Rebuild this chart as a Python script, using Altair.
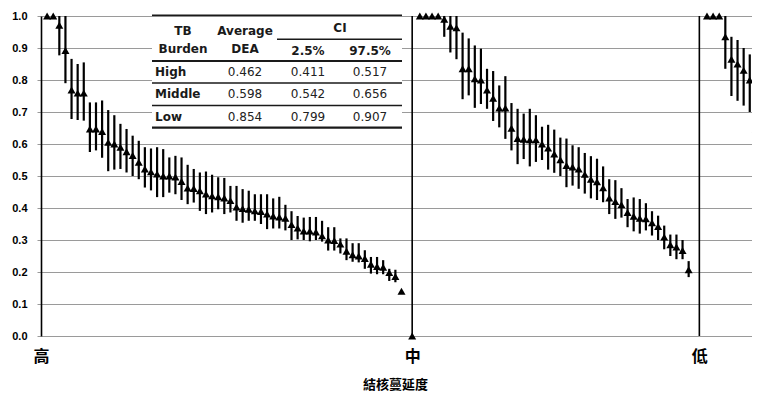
import altair as alt
import pandas as pd

# ---------------- data ----------------
x_labels = ["高", "中", "低"]
x_title = "結核蔓延度"

high_val = [1.000, 1.000, 0.971, 0.892, 0.769, 0.759, 0.759, 0.647, 0.647, 0.639,
            0.605, 0.600, 0.590, 0.576, 0.564, 0.543, 0.522, 0.513, 0.506, 0.500,
            0.500, 0.497, 0.483, 0.462, 0.461, 0.454, 0.444, 0.438, 0.435, 0.431,
            0.423, 0.403, 0.398, 0.396, 0.391, 0.389, 0.381, 0.375, 0.372, 0.368,
            0.348, 0.337, 0.328, 0.328, 0.325, 0.313, 0.300, 0.298, 0.287, 0.265,
            0.254, 0.250, 0.242, 0.224, 0.217, 0.215, 0.198, 0.186, 0.140]
high_lo = [1.000, 1.000, 0.877, 0.790, 0.678, 0.675, 0.673, 0.575, 0.580, 0.557,
           0.515, 0.520, 0.522, 0.511, 0.500, 0.490, 0.464, 0.455, 0.434, 0.434,
           0.448, 0.443, 0.425, 0.412, 0.417, 0.391, 0.381, 0.386, 0.396, 0.381,
           0.386, 0.360, 0.354, 0.360, 0.360, 0.350, 0.334, 0.336, 0.336, 0.330,
           0.300, 0.302, 0.300, 0.296, 0.300, 0.295, 0.267, 0.267, 0.258, 0.237,
           0.232, 0.230, 0.210, 0.195, 0.193, 0.193, 0.172, 0.168, 0.140]
high_hi = [1.000, 1.000, 1.000, 1.000, 0.866, 0.850, 0.855, 0.730, 0.730, 0.736,
           0.706, 0.690, 0.663, 0.647, 0.626, 0.610, 0.590, 0.586, 0.590, 0.584,
           0.558, 0.563, 0.558, 0.535, 0.522, 0.511, 0.514, 0.504, 0.496, 0.494,
           0.469, 0.469, 0.459, 0.454, 0.443, 0.443, 0.443, 0.430, 0.435, 0.410,
           0.390, 0.375, 0.370, 0.372, 0.372, 0.360, 0.340, 0.340, 0.305, 0.305,
           0.290, 0.290, 0.268, 0.247, 0.247, 0.237, 0.210, 0.207, 0.140]

mid_val = [1.000, 1.000, 1.000, 1.000, 0.990, 0.968, 0.963, 0.835, 0.835, 0.804,
           0.800, 0.769, 0.743, 0.712, 0.712, 0.649, 0.617, 0.615, 0.613, 0.613,
           0.600, 0.587, 0.569, 0.551, 0.533, 0.528, 0.522, 0.505, 0.490, 0.482,
           0.463, 0.431, 0.420, 0.410, 0.386, 0.374, 0.368, 0.366, 0.354, 0.342,
           0.309, 0.285, 0.278, 0.267, 0.207]
mid_lo = [1.000, 1.000, 1.000, 1.000, 0.935, 0.886, 0.865, 0.740, 0.752, 0.713,
          0.725, 0.710, 0.672, 0.652, 0.616, 0.580, 0.537, 0.553, 0.530, 0.544,
          0.550, 0.520, 0.510, 0.500, 0.465, 0.470, 0.460, 0.445, 0.430, 0.425,
          0.418, 0.381, 0.366, 0.370, 0.340, 0.327, 0.320, 0.330, 0.314, 0.300,
          0.271, 0.250, 0.240, 0.240, 0.184]
mid_hi = [1.000, 1.000, 1.000, 1.000, 1.000, 1.000, 1.000, 0.948, 0.930, 0.908,
          0.898, 0.835, 0.828, 0.783, 0.812, 0.728, 0.710, 0.695, 0.710, 0.690,
          0.654, 0.660, 0.645, 0.620, 0.617, 0.596, 0.590, 0.572, 0.562, 0.554,
          0.530, 0.490, 0.487, 0.462, 0.428, 0.433, 0.428, 0.415, 0.390, 0.376,
          0.345, 0.317, 0.317, 0.300, 0.234]

low_val = [1.000, 1.000, 1.000, 0.935, 0.865, 0.850, 0.830, 0.800, 0.647, 0.600]
low_lo = [1.000, 1.000, 1.000, 0.835, 0.750, 0.735, 0.720, 0.700, 0.574, 0.530]
low_hi = [1.000, 1.000, 1.000, 1.000, 0.935, 0.925, 0.900, 0.880, 0.740, 0.680]

separator_value = 0.0  # the single point drawn at the 中 boundary

y_ticks = [0.0, 0.1, 0.2, 0.3, 0.4, 0.5, 0.6, 0.7, 0.8, 0.9, 1.0]

table_rows = ["High", "Middle", "Low"]
table_avg = [0.462, 0.598, 0.854]
table_ci_lo = [0.411, 0.542, 0.799]
table_ci_hi = [0.517, 0.656, 0.907]

# ---------------- build tables ----------------
panels = [(high_val, high_lo, high_hi), (mid_val, mid_lo, mid_hi), (low_val, low_lo, low_hi)]
rows = []
seps = []
start = 1
for vals, los, his in panels:
    for i, (v, lo, hi) in enumerate(zip(vals, los, his)):
        rows.append({"idx": start + i, "v": v, "lo": lo, "hi": hi})
    last = start + len(vals) - 1
    seps.append(last + 1.75)
    start = last + 3
seps = seps[:2]
rows.append({"idx": seps[0], "v": separator_value, "lo": separator_value, "hi": separator_value})
df = pd.DataFrame(rows)
sep_df = pd.DataFrame({"sep": seps})

tick_pos = [0] + seps
label_expr = ""
for pos, lab in zip(tick_pos[:-1], x_labels[:-1]):
    label_expr += f"abs(datum.value - {pos}) < 0.01 ? '{lab}' : "
label_expr += f"'{x_labels[-1]}'"

PX_PER_SLOT = 6.11
W, H = 711, 320
x_max = W / PX_PER_SLOT

x_scale = alt.Scale(domain=[0, x_max], nice=False, zero=False)
y_scale = alt.Scale(domain=[0, 1], nice=False)

x_axis = alt.Axis(values=tick_pos, labelExpr=label_expr, grid=False, ticks=False, domain=False,
                  labelFont="Noto Sans CJK TC", labelFontWeight="bold", labelFontSize=16,
                  labelColor="black", labelPadding=12, labelFlush=False, labelOverlap=False,
                  labelBound=False, title=x_title, titleFont="Noto Sans CJK TC",
                  titleFontWeight="bold", titleFontSize=13, titleColor="black",
                  titlePadding=14, titleX=354)
y_axis = alt.Axis(values=y_ticks, format=".1f", grid=True, labelOverlap=False,
                  gridColor="#9a9a9a", gridWidth=1.2, tickColor="#9a9a9a", tickSize=4,
                  domainColor="black", domainWidth=1.6, labelFont="Liberation Sans",
                  labelFontWeight="bold", labelFontSize=11, labelColor="black",
                  labelPadding=10, title=None)

base = alt.Chart(df)
bars = base.mark_rule(color="black", strokeWidth=2.2).encode(
    x=alt.X("idx:Q", scale=x_scale, axis=x_axis),
    y=alt.Y("lo:Q", scale=y_scale, axis=y_axis),
    y2="hi:Q",
)
pts = base.mark_point(shape="triangle-up", filled=True, size=64, color="black", opacity=1).encode(
    x=alt.X("idx:Q", scale=x_scale, axis=x_axis),
    y=alt.Y("v:Q", scale=y_scale, axis=y_axis),
)
sep_rules = alt.Chart(sep_df).mark_rule(color="black", strokeWidth=1.6).encode(
    x=alt.X("sep:Q", scale=x_scale, axis=x_axis), y=alt.value(0), y2=alt.value(H)
)

# ---------------- inset table ----------------
tx0, tx1 = 111, 361
col_avg, col_lo, col_hi = 204, 267, 329
col_lab, col_head = 114, 142
row_y0, row_step = 55.7, 22.5

bg = alt.Chart(pd.DataFrame({"a": [0]})).mark_rect(color="white").encode(
    x=alt.value(tx0), x2=alt.value(tx1), y=alt.value(-1), y2=alt.value(113)
)
lines = pd.DataFrame({
    "x1": [tx0, 236, tx0, tx0, tx0, tx0],
    "x2": [tx1, tx1, tx1, tx1, tx1, tx1],
    "y": [-0.5, 23.3, 45, 66.9, 89.4, 111.7],
    "w": [2.2, 1.5, 2.2, 1.5, 1.5, 2.2],
})
tab_lines = alt.Chart(lines).mark_rule(color="#1a1a1a").encode(
    x=alt.X("x1:Q", scale=None), x2="x2:Q", y=alt.Y("y:Q", scale=None),
    strokeWidth=alt.StrokeWidth("w:Q", scale=None, legend=None),
)
head = pd.DataFrame({
    "t": ["TB", "Burden", "Average", "DEA", "CI", "2.5%", "97.5%"],
    "x": [col_head, col_head, col_avg, col_avg, 299, col_lo, col_hi],
    "y": [14.7, 32.5, 14.7, 32.5, 12.3, 34.7, 34.7],
})
tab_head = alt.Chart(head).mark_text(font="DejaVu Sans", fontWeight="bold", fontSize=12,
                                     color="#1a1a1a", align="center", baseline="middle").encode(
    x=alt.X("x:Q", scale=None), y=alt.Y("y:Q", scale=None), text="t:N")
labs = pd.DataFrame({"t": table_rows, "x": [col_lab] * 3,
                     "y": [row_y0 + row_step * i for i in range(3)]})
tab_labs = alt.Chart(labs).mark_text(font="DejaVu Sans", fontWeight="bold", fontSize=12,
                                     color="#1a1a1a", align="left", baseline="middle").encode(
    x=alt.X("x:Q", scale=None), y=alt.Y("y:Q", scale=None), text="t:N")
vals = []
for i in range(3):
    for cx, arr in ((col_avg, table_avg), (col_lo, table_ci_lo), (col_hi, table_ci_hi)):
        vals.append({"t": f"{arr[i]:.3f}", "x": cx, "y": row_y0 + row_step * i})
tab_vals = alt.Chart(pd.DataFrame(vals)).mark_text(font="DejaVu Sans", fontSize=12,
                                                   color="#222", align="center",
                                                   baseline="middle").encode(
    x=alt.X("x:Q", scale=None), y=alt.Y("y:Q", scale=None), text="t:N")

chart = alt.layer(bars, sep_rules, bg, tab_lines, tab_head, tab_labs, tab_vals, pts).properties(
    width=W, height=H,
    autosize=alt.AutoSizeParams(type="none"),
    padding={"left": 33, "top": 8, "right": 0, "bottom": 60},
    background="white",
).configure_view(stroke=None)

chart.save("out.html", embed_options={"renderer": "svg", "actions": False})
